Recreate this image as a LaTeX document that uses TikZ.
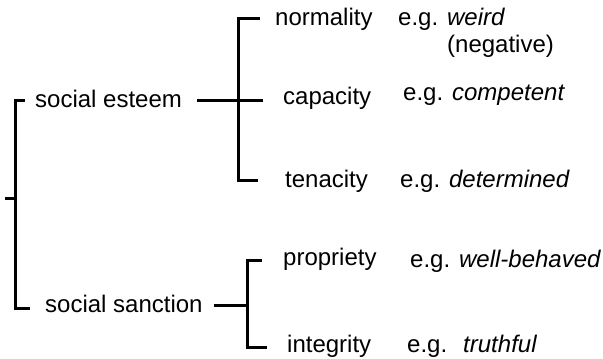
\documentclass[tikz,border=0pt]{standalone}
\usepackage{fontspec}
\setmainfont{Liberation Sans}
\begin{document}
\begin{tikzpicture}[x=1pt,y=-1pt,
  bracket/.style={line width=3pt, line join=miter},
  txt/.style={anchor=mid west, inner sep=0pt, yshift=-5pt, font=\fontsize{24}{28}\selectfont}]
\useasboundingbox (0,0) rectangle (603,359);
% text nodes
\node[txt] (esteem) at (35,100) {social esteem};
\node[txt] (sanction) at (45,305) {social sanction};
\node[txt] (normality) at (275,18) {normality};
\node[txt] (capacity) at (283,97) {capacity};
\node[txt] (tenacity) at (285,180) {tenacity};
\node[txt] (propriety) at (283,258) {propriety};
\node[txt] (integrity) at (287,345) {integrity};
\node[txt] (eg1) at (398,18) {e.g. \textit{weird}};
\node[txt] (neg) at (447,45) {(negative)};
\node[txt] (eg2) at (403,93) {e.g. \textit{competent}};
\node[txt] (eg3) at (400,180) {e.g. \textit{determined}};
\node[txt] (eg4) at (410,260) {e.g. \textit{well-behaved}};
\node[txt] (eg5) at (407,345) {e.g.\hspace{16pt}\textit{truthful}};
% spines
\coordinate (rootL) at (5,198);
\coordinate (spineL) at (15,198);
\coordinate (eS) at (238,100);
\coordinate (sS) at (247,305);
% left bracket
\draw[bracket] (rootL) -- (spineL);
\draw[bracket] ([xshift=-10pt]esteem.mid west |- eS) -| (spineL) |- ([xshift=-15pt,yshift=-3pt]sanction.mid west |- sS);
% social esteem bracket
\draw[bracket] ([xshift=15pt]esteem.mid east |- eS) -- ([xshift=25pt]eS);
\draw[bracket] ([xshift=-15pt,yshift=5pt]normality.mid west) -| (eS) |- ([xshift=-27pt,yshift=5pt]tenacity.mid west);
% social sanction bracket
\draw[bracket] ([xshift=11pt]sanction.mid east |- sS) -- (sS);
\draw[bracket] ([xshift=-21pt,yshift=3pt]propriety.mid west) -| (sS) |- ([xshift=-20pt,yshift=3pt]integrity.mid west);
\end{tikzpicture}
\end{document}
